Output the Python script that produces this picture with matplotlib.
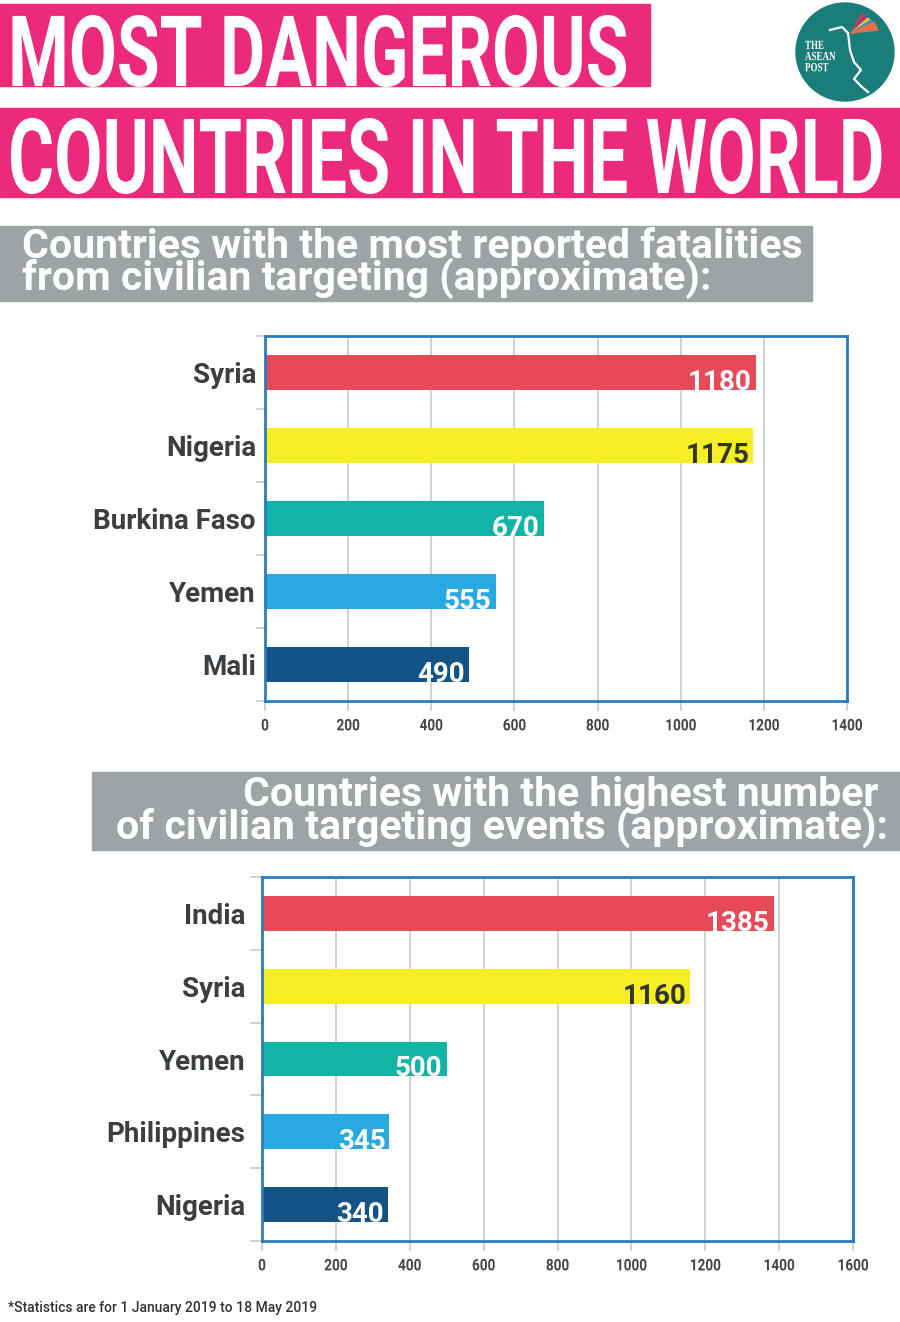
import numpy as np
import matplotlib
matplotlib.use('Agg')
import matplotlib.pyplot as plt
from matplotlib import patheffects
from matplotlib.transforms import Affine2D
from matplotlib.patches import Rectangle, Circle, Polygon

plt.rcParams['font.family'] = ['Roboto', 'DejaVu Sans']

# donnees du premier graphique (victimes)
pays_morts = ['Syria', 'Nigeria', 'Burkina Faso', 'Yemen', 'Mali']
valeurs_morts = [1180, 1175, 670, 555, 490]

# donnees du second graphique (evenements)
pays_evenements = ['India', 'Syria', 'Yemen', 'Philippines', 'Nigeria']
valeurs_evenements = [1385, 1160, 500, 345, 340]

couleurs = ['#e64a58', '#f6ee25', '#12b5a5', '#29a9e1', '#135386']
couleurs_texte = ['white', '#333333', 'white', 'white', 'white']

ROSE = '#ec2a7c'
GRIS = '#9ea3a6'
BLEU = '#2b7bbd'
GRILLE = '#c9c9c9'


class Squeeze(patheffects.AbstractPathEffect):
    """Resserre le texte horizontalement (police condensee)."""

    def __init__(self, sx, anchor='left'):
        super().__init__()
        self.sx = sx
        self.anchor = anchor

    def draw_path(self, renderer, gc, tpath, affine, rgbFace=None):
        ext = tpath.get_extents()
        if self.anchor == 'right':
            x0 = ext.x1
        elif self.anchor == 'center':
            x0 = (ext.x0 + ext.x1) / 2
        else:
            x0 = 0
        t = Affine2D().translate(-x0, 0).scale(self.sx, 1).translate(x0, 0) + affine
        renderer.draw_path(gc, tpath, t, rgbFace)


W, H = 900, 1322
fig = plt.figure(figsize=(W / 100, H / 100), dpi=100)

# axe de fond en coordonnees pixels
bg = fig.add_axes([0, 0, 1, 1])
bg.set_xlim(0, W)
bg.set_ylim(H, 0)
bg.axis('off')

# bandeaux roses du titre
bg.add_patch(Rectangle((0, 4), 650, 82, color=ROSE))
bg.add_patch(Rectangle((0, 108), 900, 89, color=ROSE))
bg.text(8, 86, 'MOST DANGEROUS', fontsize=71, fontweight='bold', color='white',
        ha='left', va='baseline', path_effects=[Squeeze(0.705)])
bg.text(8, 193, 'COUNTRIES IN THE WORLD', fontsize=75, fontweight='bold', color='white',
        ha='left', va='baseline', path_effects=[Squeeze(0.675)])

# logo
bg.add_patch(Circle((845, 52), 49, color='#1b7d79'))
bg.text(805, 40, 'THE\nASEAN\nPOST', family=['Liberation Serif', 'DejaVu Serif'],
        fontsize=9, fontweight='bold', color='white', ha='left', va='top', linespacing=0.9,
        path_effects=[Squeeze(0.72)])
cou_x = [830, 842, 848, 850, 854, 861, 854, 862, 868]
cou_y = [30, 27, 33, 50, 62, 70, 79, 87, 92]
bg.plot(cou_x, cou_y, color='white', lw=1.6)
ailes = ['#d6394a', '#8e3b8f', '#f2c230', '#3a8fd0', '#e0734a']
for k, c in enumerate(ailes):
    bg.add_patch(Polygon([(851, 33), (862 + 3 * k, 14 + 2 * k), (866 + 3 * k, 18 + 3 * k)],
                         closed=True, color=c))

# bandeaux gris des sous-titres
bg.add_patch(Rectangle((0, 226), 812, 75, color=GRIS))
bg.text(22, 258, 'Countries with the most reported fatalities', fontsize=29.5, fontweight='bold',
        color='white', ha='left', va='baseline')
bg.text(22, 290, 'from civilian targeting (approximate):', fontsize=29.5, fontweight='bold',
        color='white', ha='left', va='baseline')

bg.add_patch(Rectangle((92, 772), 808, 78, color=GRIS))
bg.text(878, 806, 'Countries with the highest number', fontsize=29.5, fontweight='bold',
        color='white', ha='right', va='baseline')
bg.text(888, 839, 'of civilian targeting events (approximate):', fontsize=29.5, fontweight='bold',
        color='white', ha='right', va='baseline')

bg.text(8, 1308, '*Statistics are for 1 January 2019 to 18 May 2019', fontsize=10,
        fontweight='medium', color='#333333', ha='left', va='center')


def dessiner(ax, noms, valeurs, xmax, pad_label, long_tick):
    y = np.arange(len(noms))
    ax.barh(y, valeurs, height=0.48, color=couleurs, zorder=3)
    ax.set_xlim(0, xmax)
    ax.set_ylim(len(noms) - 0.5, -0.5)
    ax.set_xticks(np.arange(0, xmax + 1, 200))
    ax.grid(axis='x', color=GRILLE, lw=1.2, zorder=0)
    ax.set_yticks(y)
    ax.set_yticklabels(noms, fontsize=20, fontweight='bold', color='#3b3f42', va='center_baseline')
    ax.tick_params(axis='y', which='major', length=0, pad=pad_label)
    ax.set_yticks(np.arange(-0.5, len(noms)), minor=True)
    ax.tick_params(axis='y', which='minor', length=long_tick, color=GRILLE, width=1.2)
    ax.tick_params(axis='x', length=7, color=GRILLE, width=1.2, pad=5.5,
                   labelsize=11.5, labelcolor='#444444')
    for t in ax.get_xticklabels():
        t.set_fontweight('bold')
        t.set_path_effects([Squeeze(0.85, 'center')])
    for s in ax.spines.values():
        s.set_color(BLEU)
        s.set_linewidth(2)
        s.set_zorder(4)
    for i, v in enumerate(valeurs):
        ax.annotate(str(v), xy=(v, i + 0.24), xytext=(-3, 0), textcoords='offset points',
                    ha='right', va='baseline', fontsize=20, fontweight='bold',
                    color=couleurs_texte[i], zorder=5)


ax1 = fig.add_axes([265 / W, 1 - 701 / H, 582 / W, 365 / H])
dessiner(ax1, pays_morts, valeurs_morts, 1400, 6.5, 6.5)

ax2 = fig.add_axes([262 / W, 1 - 1241 / H, 591 / W, 364 / H])
dessiner(ax2, pays_evenements, valeurs_evenements, 1600, 12, 9)

fig.savefig('out.png', dpi=100)
